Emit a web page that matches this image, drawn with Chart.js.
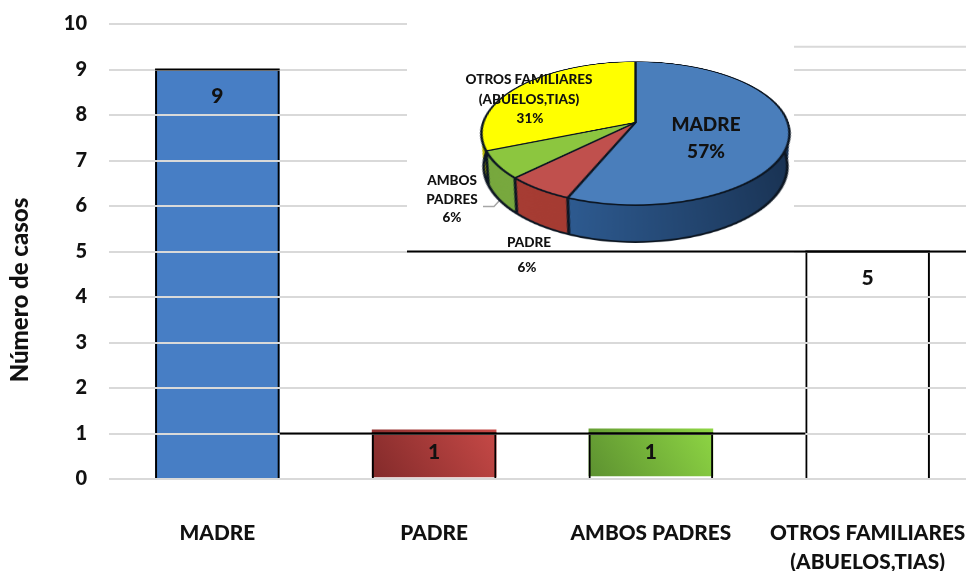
<!DOCTYPE html>
<html lang="es">
<head>
<meta charset="utf-8">
<title>Número de casos</title>
<script src="https://cdn.jsdelivr.net/npm/chart.js@4/dist/chart.umd.js"></script>
<style>
html,body{margin:0;padding:0;width:966px;height:571px;overflow:hidden;background:#fff}
#wrap{position:relative;width:966px;height:571px;overflow:hidden}
#main{position:absolute;left:0;top:0}
#pie{position:absolute;left:482.3px;top:-31.5px;transform-origin:153.5px 153.5px;transform:perspective(889px) rotateX(62.6deg)}
.lb{position:absolute;font-family:Lato,sans-serif;font-weight:900;color:#111;text-align:center;transform:translate(-50%,-50%);white-space:nowrap;line-height:1}
</style>
</head>
<body>
<div id="wrap">
<canvas id="main" width="1130" height="571"></canvas>
<canvas id="pie" width="307" height="407"></canvas>
<div class="lb" style="left:529px;top:80px;font-size:13.5px">OTROS FAMILIARES</div>
<div class="lb" style="left:529px;top:100px;font-size:13.5px">(ABUELOS,TIAS)</div>
<div class="lb" style="left:530px;top:119px;font-size:13.5px">31%</div>
<div class="lb" style="left:706px;top:123px;font-size:19px">MADRE</div>
<div class="lb" style="left:706px;top:150px;font-size:19px">57%</div>
<div class="lb" style="left:452px;top:181px;font-size:13.5px">AMBOS</div>
<div class="lb" style="left:452px;top:200px;font-size:13.5px">PADRES</div>
<div class="lb" style="left:452px;top:218px;font-size:13.5px">6%</div>
<div class="lb" style="left:529px;top:243px;font-size:13.5px">PADRE</div>
<div class="lb" style="left:527px;top:268px;font-size:13.5px">6%</div>
</div>
<script>
const categories = ['MADRE','PADRE','AMBOS PADRES',['OTROS FAMILIARES','(ABUELOS,TIAS)']];
const casos = [9,1,1,5];
const fillBase = [0,0.04,0.06,0];
const fillTop = [9,1.09,1.11,0];
const yTicks = [0,1,2,3,4,5,6,7,8,9,10];
const pieLabels = ['MADRE','PADRE','AMBOS PADRES','OTROS FAMILIARES (ABUELOS,TIAS)'];
const pieValues = [9,1,1,5];
const pieTop = ['#4a7ebb','#c0504d','#8cc63f','#ffff00'];
const pieSide = ['#244a78','#a63c33','#78a83e','#b8b800'];
const barGrad = [null,['#822a2a','#cf4d4a'],['#5c9030','#94de46'],null];
const strayGrid = 9.5;
const axisTitle = 'Número de casos';
const FONT = 'Lato, sans-serif';

function barColor(ctx){
  const c = ctx.chart, i = ctx.dataIndex;
  if(i===0) return '#477ec5';
  if(i===3 || !c.chartArea) return 'rgba(0,0,0,0)';
  const x = c.scales.x.getPixelForValue(i), y = c.scales.y;
  const g = c.ctx.createLinearGradient(x-62,y.getPixelForValue(0),x+62,y.getPixelForValue(1.1)-30);
  g.addColorStop(0,barGrad[i][0]); g.addColorStop(1,barGrad[i][1]);
  return g;
}

const overlay = {
  id:'overlay',
  afterDraw(c){
    const g = c.ctx, sy = c.scales.y;
    const meta = c.getDatasetMeta(0).data;
    const W = c.width, y5 = sy.getPixelForValue(5), y1 = sy.getPixelForValue(1);
    g.save();
    g.fillStyle='#fff';
    g.fillRect(407,0,387,y5+1);
    const ys = sy.getPixelForValue(strayGrid);
    g.fillRect(794,0,W-794,ys+10);
    g.fillStyle='#d9d9d9';
    g.fillRect(794,ys-1,W-794,2);
    g.fillStyle='#000';
    g.fillRect(407,y5-1,W-407,2);
    const hw = meta[0].width/2;
    g.fillRect(meta[0].x+hw,y1-1,meta[3].x-hw-meta[0].x-hw,2);
    meta.forEach(m=>g.fillRect(m.x-hw,m.y-1,hw*2,2));
    g.strokeStyle='#a6a6a6'; g.lineWidth=1.5;
    g.beginPath(); g.moveTo(483,206.5); g.lineTo(494,206.5); g.lineTo(500,200); g.stroke();
    g.fillStyle='#111'; g.font='900 21px '+FONT; g.textAlign='center'; g.textBaseline='middle';
    casos.forEach((v,i)=>{
      const h = sy.getPixelForValue(0)-meta[i].y;
      g.fillText(String(v),meta[i].x,meta[i].y+(h>100?27:19));
    });
    g.font='900 24px '+FONT;
    g.translate(20,290); g.rotate(-Math.PI/2);
    g.fillText(axisTitle,0,0);
    g.restore();
  }
};

new Chart(document.getElementById('main'),{
  type:'bar',
  data:{labels:categories,datasets:[
    {data:casos,backgroundColor:'rgba(0,0,0,0)',borderColor:'#000',borderWidth:{left:2,right:2,top:0,bottom:0},borderSkipped:false,grouped:false,barPercentage:0.575,categoryPercentage:1},
    {data:fillTop.map((t,i)=>[fillBase[i],t]),backgroundColor:barColor,borderWidth:0,grouped:false,barPercentage:0.575,categoryPercentage:1}
  ]},
  options:{
    responsive:false,animation:false,devicePixelRatio:1,
    layout:{padding:{top:24,right:154,left:0,bottom:0}},
    plugins:{legend:{display:false},tooltip:{enabled:false}},
    scales:{
      x:{
        afterFit(s){s.height=92},
        grid:{display:false},border:{display:false},
        ticks:{color:'#111',font:{family:FONT,weight:'900',size:20.8,lineHeight:1.4},padding:32,maxRotation:0,autoSkip:false}
      },
      y:{
        min:0,max:10,
        afterFit(s){s.width=109;s.paddingTop=0;s.paddingBottom=0},
        afterBuildTicks(s){s.ticks=yTicks.map(v=>({value:v}))},
        grid:{color:'#d9d9d9',lineWidth:2,z:1,drawTicks:false},
        border:{display:false},
        ticks:{color:'#111',font:{family:FONT,weight:'900',size:20},padding:22,stepSize:1}
      }
    }
  },
  plugins:[overlay]
});

const depth = {
  id:'depth',
  beforeDatasetsDraw(c){
    const g=c.ctx, arcs=c.getDatasetMeta(0).data;
    if(!arcs.length) return;
    const D=66, k=0.0012, cx=arcs[0].x, cy=arcs[0].y, R=arcs[0].outerRadius;
    const grad=g.createLinearGradient(cx-R*0.45,0,cx+R,0);
    grad.addColorStop(0,'#2f5d94'); grad.addColorStop(1,'#18304f');
    g.save();
    for(let d=D;d>=0;d--){
      const f=1-d*k;
      arcs.forEach((a,i)=>{
        g.fillStyle=i===0?grad:pieSide[i];
        g.beginPath(); g.moveTo(cx,cy+d);
        g.arc(cx,cy+d,R*f,a.startAngle,a.endAngle); g.closePath(); g.fill();
      });
    }
    g.strokeStyle='#0c1622'; g.lineWidth=2.5;
    const f=1-D*k;
    g.beginPath(); g.arc(cx,cy+D,R*f,0,Math.PI*2); g.stroke();
    arcs.forEach(a=>{
      g.beginPath();
      g.moveTo(cx+R*Math.cos(a.startAngle),cy+R*Math.sin(a.startAngle));
      g.lineTo(cx+R*f*Math.cos(a.startAngle),cy+D+R*f*Math.sin(a.startAngle));
      g.stroke();
    });
    g.restore();
  }
};

new Chart(document.getElementById('pie'),{
  type:'pie',
  data:{labels:pieLabels,datasets:[{data:pieValues,backgroundColor:pieTop,borderColor:'#0c1622',borderWidth:2.5,borderAlign:'center'}]},
  options:{
    responsive:false,animation:false,devicePixelRatio:2,
    layout:{padding:{bottom:100}},
    plugins:{legend:{display:false},tooltip:{enabled:false}}
  },
  plugins:[depth]
});
</script>
</body>
</html>
